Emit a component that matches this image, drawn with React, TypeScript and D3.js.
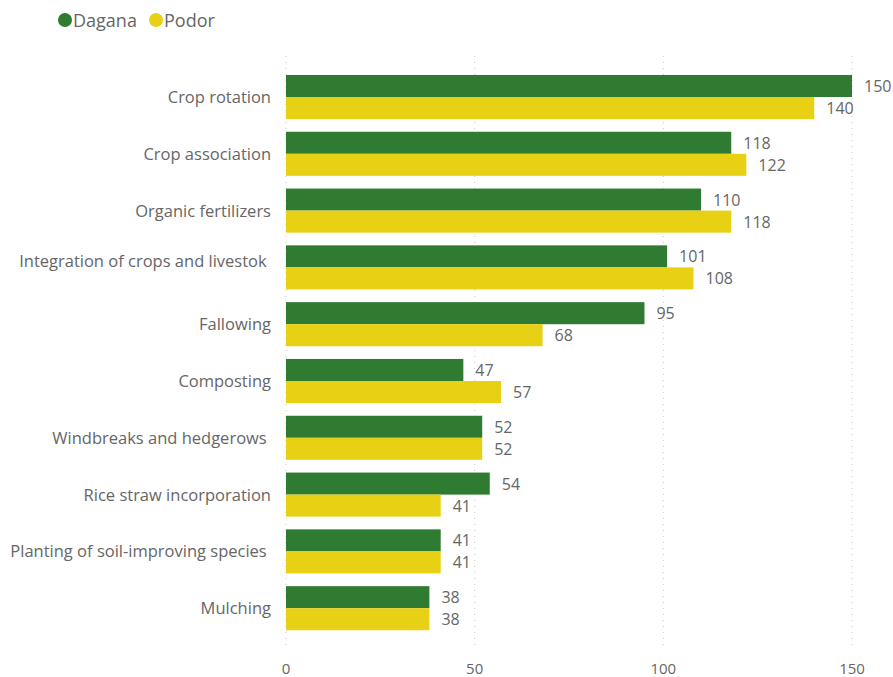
import React from "react";
import * as d3 from "d3";

const categories = [
  "Crop rotation",
  "Crop association",
  "Organic fertilizers",
  "Integration of crops and livestok ",
  "Fallowing",
  "Composting",
  "Windbreaks and hedgerows ",
  "Rice straw incorporation",
  "Planting of soil-improving species ",
  "Mulching",
];
const dagana = [150, 118, 110, 101, 95, 47, 52, 54, 41, 38];
const podor = [140, 122, 118, 108, 68, 57, 52, 41, 41, 38];
const seriesNames = ["Dagana", "Podor"];
const seriesColors = ["#2E7B31", "#E8D115"];
const xTicks = [0, 50, 100, 150];

const W = 893;
const H = 677;
const FONT = "'Open Sans', 'Noto Sans', sans-serif";

export default function App() {
  const x = d3.scaleLinear().domain([0, 150]).range([286, 852]);
  const y = d3
    .scaleBand<string>()
    .domain(categories)
    .range([68.6, 636.6])
    .paddingInner(0.224)
    .paddingOuter(0.112);
  const series = [dagana, podor];
  const bw = y.bandwidth() / 2;
  return (
    <svg width={W} height={H} style={{ position: "absolute", left: 0, top: 0, background: "#fff" }}>
      {/* legend */}
      <g fontFamily={FONT} fontSize={18} fill="#666">
        <circle cx={65} cy={20} r={7} fill={seriesColors[0]} />
        <text x={73} y={27}>{seriesNames[0]}</text>
        <circle cx={156} cy={20} r={7} fill={seriesColors[1]} />
        <text x={164} y={27}>{seriesNames[1]}</text>
      </g>
      {/* gridlines */}
      {xTicks.map((t) => (
        <line
          key={t}
          x1={x(t)}
          x2={x(t)}
          y1={56}
          y2={650}
          stroke="#c8c8c8"
          strokeWidth={1}
          strokeDasharray="1,5"
        />
      ))}
      {/* x tick labels */}
      {xTicks.map((t) => (
        <text
          key={"l" + t}
          x={x(t)}
          y={674}
          textAnchor="middle"
          fontFamily={FONT}
          fontSize={15}
          fill="#666"
        >
          {t}
        </text>
      ))}
      {/* bars */}
      {categories.map((c, i) => {
        const nudge = c.startsWith("Integration") ? -6 : 0;
        return (
          <g key={c}>
            <text
              x={271}
              y={(y(c) as number) + bw + 6 + nudge}
              textAnchor="end"
              fontFamily={FONT}
              fontSize={16.5}
              fill="#666"
              style={{ whiteSpace: "pre" }}
            >
              {c}
            </text>
            {series.map((s, k) => {
              const yy = (y(c) as number) + k * bw;
              return (
                <g key={k}>
                  <rect
                    x={x(0)}
                    y={yy}
                    width={x(s[i]) - x(0)}
                    height={bw}
                    fill={seriesColors[k]}
                  />
                  <text
                    x={x(s[i]) + 12}
                    y={yy + bw / 2 + 6}
                    fontFamily={FONT}
                    fontSize={16}
                    fill="#666"
                  >
                    {s[i]}
                  </text>
                </g>
              );
            })}
          </g>
        );
      })}
    </svg>
  );
}
